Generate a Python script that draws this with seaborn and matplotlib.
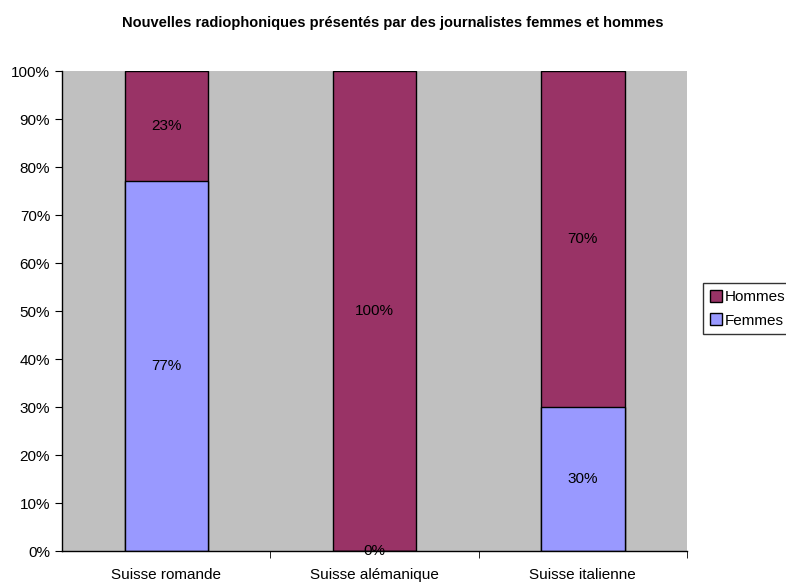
import matplotlib
import matplotlib.pyplot as plt
import seaborn as sns
import pandas as pd
matplotlib.use("Agg")

regions = ["Suisse romande", "Suisse alémanique", "Suisse italienne"]
femmes = [77, 0, 30]
hommes = [23, 100, 70]
y_ticks = [0, 10, 20, 30, 40, 50, 60, 70, 80, 90, 100]

COL_H = "#993366"
COL_F = "#9999FF"


def main():
    sns.set_style("white")
    plt.rcParams["font.family"] = ["Liberation Sans", "DejaVu Sans"]
    plt.rcParams.update({"text.color": "black", "xtick.color": "black",
                         "ytick.color": "black", "axes.labelcolor": "black"})

    df = pd.DataFrame({"region": regions, "femmes": femmes, "hommes": hommes})
    df["total"] = df["femmes"] + df["hommes"]

    fig = plt.figure(figsize=(7.86, 5.86), dpi=100)
    ax = fig.add_axes([0.0789, 0.0597, 0.7952, 0.8191])
    ax.set_facecolor("#C0C0C0")

    sns.barplot(data=df, x="region", y="total", color=COL_H, width=0.40,
                edgecolor="black", linewidth=1, saturation=1, ax=ax)
    sns.barplot(data=df, x="region", y="femmes", color=COL_F, width=0.40,
                edgecolor="black", linewidth=1, saturation=1, ax=ax)

    for i, row in df.iterrows():
        ax.text(i, row["femmes"] + row["hommes"] / 2, f"{row['hommes']}%",
                ha="center", va="center", fontsize=11)
        ax.text(i, row["femmes"] / 2, f"{row['femmes']}%",
                ha="center", va="center", fontsize=11)

    ax.set_xlim(-0.5, 2.5)
    ax.set_ylim(0, 100)
    ax.set_yticks(y_ticks)
    ax.set_yticklabels([f"{t}%" for t in y_ticks], fontsize=11)
    ax.set_xticks(range(len(regions)))
    ax.set_xticklabels(regions, fontsize=11)
    ax.set_xticks([0.5, 1.5, 2.5], minor=True)
    ax.tick_params(axis="x", which="major", length=0, pad=12)
    ax.tick_params(axis="x", which="minor", length=5, direction="out",
                   color="black", bottom=True)
    ax.tick_params(axis="y", length=5, direction="out", color="black",
                   left=True, pad=3.5)
    ax.set_xlabel("")
    ax.set_ylabel("")
    for side in ["top", "right"]:
        ax.spines[side].set_visible(False)
    for side in ["left", "bottom"]:
        ax.spines[side].set_color("black")
        ax.spines[side].set_linewidth(1)

    handles = [
        matplotlib.patches.Patch(facecolor=COL_H, edgecolor="black", label="Hommes"),
        matplotlib.patches.Patch(facecolor=COL_F, edgecolor="black", label="Femmes"),
    ]
    leg = fig.legend(handles=handles, loc="center left",
                     bbox_to_anchor=(0.894, 0.473), fontsize=11,
                     frameon=True, fancybox=False, edgecolor="black",
                     handlelength=0.8, handleheight=0.8, handletextpad=0.2,
                     borderpad=0.45, labelspacing=0.6, borderaxespad=0)
    leg.get_frame().set_linewidth(1)

    fig.suptitle("Nouvelles radiophoniques présentés par des journalistes "
                 "femmes et hommes", fontsize=10.5, fontweight="bold",
                 x=0.5, y=0.972)
    fig.savefig("out.png", dpi=100)
    plt.close(fig)


if __name__ == "__main__":
    main()
